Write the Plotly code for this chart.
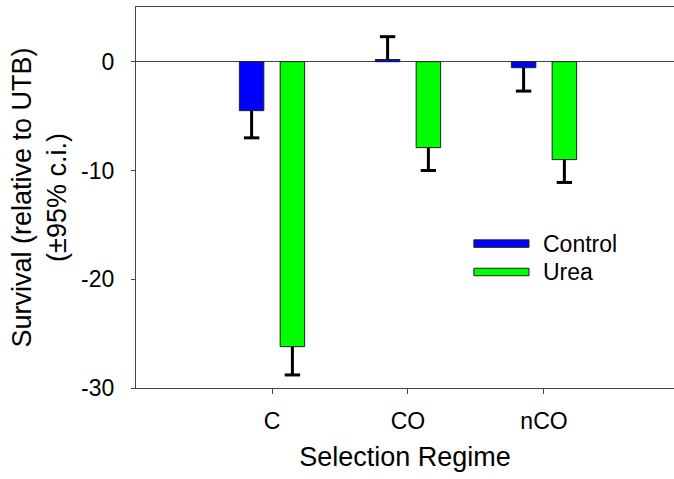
import plotly.graph_objects as go

categories = ["C", "CO", "nCO"]
control = [-4.5, 0.2, -0.55]
control_ci = [2.5, 2.1, 2.15]
urea = [-26.2, -7.9, -9.0]
urea_ci = [2.6, 2.1, 2.1]
series_names = ["Control", "Urea"]
series_colors = ["#0000FF", "#00FF00"]
y_ticks = [0, -10, -20, -30]
y_ticktext = ["0", "-10", "-20", "-30"]

FONT = "Liberation Sans, Arial, sans-serif"
pos = list(range(len(categories)))
offset = 0.15
bar_w = 0.18

fig = go.Figure()
for vals, ci, name, color, sgn in [
    (control, control_ci, series_names[0], series_colors[0], -1),
    (urea, urea_ci, series_names[1], series_colors[1], 1),
]:
    xs = [p + sgn * offset for p in pos]
    plus = [c if v >= 0 else 0 for v, c in zip(vals, ci)]
    minus = [c if v < 0 else 0 for v, c in zip(vals, ci)]
    fig.add_trace(go.Bar(
        x=xs, y=vals, width=bar_w, name=name,
        marker=dict(color=color, line=dict(color="#222222", width=1)),
        error_y=dict(type="data", symmetric=False, array=plus, arrayminus=minus,
                     color="black", thickness=3, width=0),
        showlegend=False,
    ))
    ends = [v + c if v >= 0 else v - c for v, c in zip(vals, ci)]
    fig.add_trace(go.Scatter(
        x=xs, y=ends, mode="markers",
        marker=dict(symbol="line-ew", size=11, line=dict(color="black", width=3)),
        showlegend=False, hoverinfo="skip",
    ))

# legend drawn as boxes + labels
leg_y = [0.379, 0.3045]
for name, color, yc in zip(series_names, series_colors, leg_y):
    fig.add_shape(type="rect", xref="paper", yref="paper",
                  x0=0.628, x1=0.7305, y0=yc - 0.0098, y1=yc + 0.0098,
                  fillcolor=color, line=dict(color="#222222", width=1))
    fig.add_annotation(xref="paper", yref="paper", x=0.752, y=yc,
                       xanchor="left", yanchor="middle", showarrow=False,
                       text=name, font=dict(family=FONT, size=23, color="black"))

fig.update_layout(
    width=674, height=479,
    margin=dict(l=136, r=0, t=7, b=91),
    plot_bgcolor="white", paper_bgcolor="white",
    barmode="overlay",
    font=dict(family=FONT, size=23, color="black"),
    showlegend=False,
)
fig.update_xaxes(
    range=[-1, 2.956], tickvals=pos, ticktext=categories,
    showline=True, mirror=True, linecolor="#444444", linewidth=1.2,
    ticks="outside", ticklen=5, tickcolor="#444444", tickwidth=1,
    showgrid=False, zeroline=False, ticklabelstandoff=7,
    tickfont=dict(family=FONT, size=23),
    title=dict(text="Selection Regime", font=dict(family=FONT, size=27), standoff=14),
)
fig.update_yaxes(
    range=[-30, 5.03], tickvals=y_ticks, ticktext=y_ticktext,
    showline=True, mirror=False, linecolor="#444444", linewidth=1.2,
    ticks="outside", ticklen=4, tickcolor="#444444", tickwidth=1,
    showgrid=False, zeroline=True, zerolinecolor="#444444", zerolinewidth=1.2,
    ticklabelstandoff=12,
    tickfont=dict(family=FONT, size=23),
    title=dict(text="Survival (relative to UTB)<br>(±95% c.i.)",
               font=dict(family=FONT, size=27), standoff=6),
)

fig.write_html("out.html")
